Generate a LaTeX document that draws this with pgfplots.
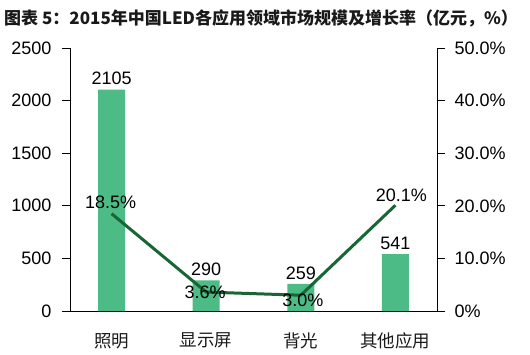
\documentclass[border=0pt]{standalone}
\usepackage{pgfplots}
\pgfplotsset{compat=1.18}
\usepackage{fontspec}
\setmainfont{Liberation Sans}
\newfontfamily\cjk{Noto Sans CJK SC}
\definecolor{barg}{HTML}{4DBB85}
\definecolor{lineg}{HTML}{176634}
\pgfplotsset{/pgf/number format/assume math mode=true, /pgf/number format/1000 sep={}}
\begin{document}
\begin{tikzpicture}[x=1pt,y=1pt]
\useasboundingbox (0,0) rectangle (530,354);
\node[anchor=west, inner sep=0, font=\cjk\bfseries\fontsize{17}{20}\selectfont, text=black!90] at (4,336) {图表 5：2015年中国LED各应用领域市场规模及增长率（亿元，\%）};
\begin{axis}[
  at={(70pt,43pt)}, anchor=south west,
  scale only axis, width=367pt, height=263pt,
  xmin=-0.44, xmax=3.44, ymin=0, ymax=2500,
  axis x line=bottom, axis y line=left,
  axis line style={-, black, line width=0.8pt},
  ytick={0,500,...,2500},
  xtick={0,1,2,3},
  xticklabels={照明,显示屏,背光,其他应用},
  x tick label style={font=\cjk\fontsize{17.5}{20}\selectfont, yshift=-10.5pt, text=black!90},
  xtick style={draw=none},
  tick align=outside,
  major tick length=8pt,
  ytick style={black, line width=0.8pt},
  y tick label style={font=\fontsize{18}{20}\selectfont, xshift=-7pt},
  ybar, bar width=27pt,
  nodes near coords,
  every node near coord/.append style={font=\fontsize{18}{20}\selectfont, black, yshift=1pt},
  clip=false,
]
\addplot[fill=barg, draw=none] coordinates {(0,2105) (1,290) (2,259) (3,541)};
\end{axis}
\begin{axis}[
  at={(70pt,43pt)}, anchor=south west,
  scale only axis, width=367pt, height=263pt,
  xmin=-0.44, xmax=3.44, ymin=0, ymax=50,
  axis y line=right, axis x line=none,
  axis line style={-, black, line width=0.8pt},
  ytick={0,10,...,50},
  yticklabels={0\%,10.0\%,20.0\%,30.0\%,40.0\%,50.0\%},
  tick align=outside, major tick length=8pt,
  ytick style={black, line width=0.8pt},
  y tick label style={font=\fontsize{18}{20}\selectfont, xshift=6pt},
  clip=false,
]
\addplot[lineg, line width=3pt, mark=none,
  nodes near coords={\pgfmathprintnumber[fixed,fixed zerofill,precision=1]{\pgfplotspointmeta}\%},
  visualization depends on={\thisrow{dy} \as \dy},
  visualization depends on={\thisrow{dx} \as \dx},
  every node near coord/.append style={anchor=center, yshift=\dy pt, xshift=\dx pt, font=\fontsize{18}{20}\selectfont, black}]
  table {
x y dy dx
0 18.5 11 -1
1 3.6 0 -1
2 3.0 -5 2
3 20.1 10 6
};
\end{axis}
\end{tikzpicture}
\end{document}
